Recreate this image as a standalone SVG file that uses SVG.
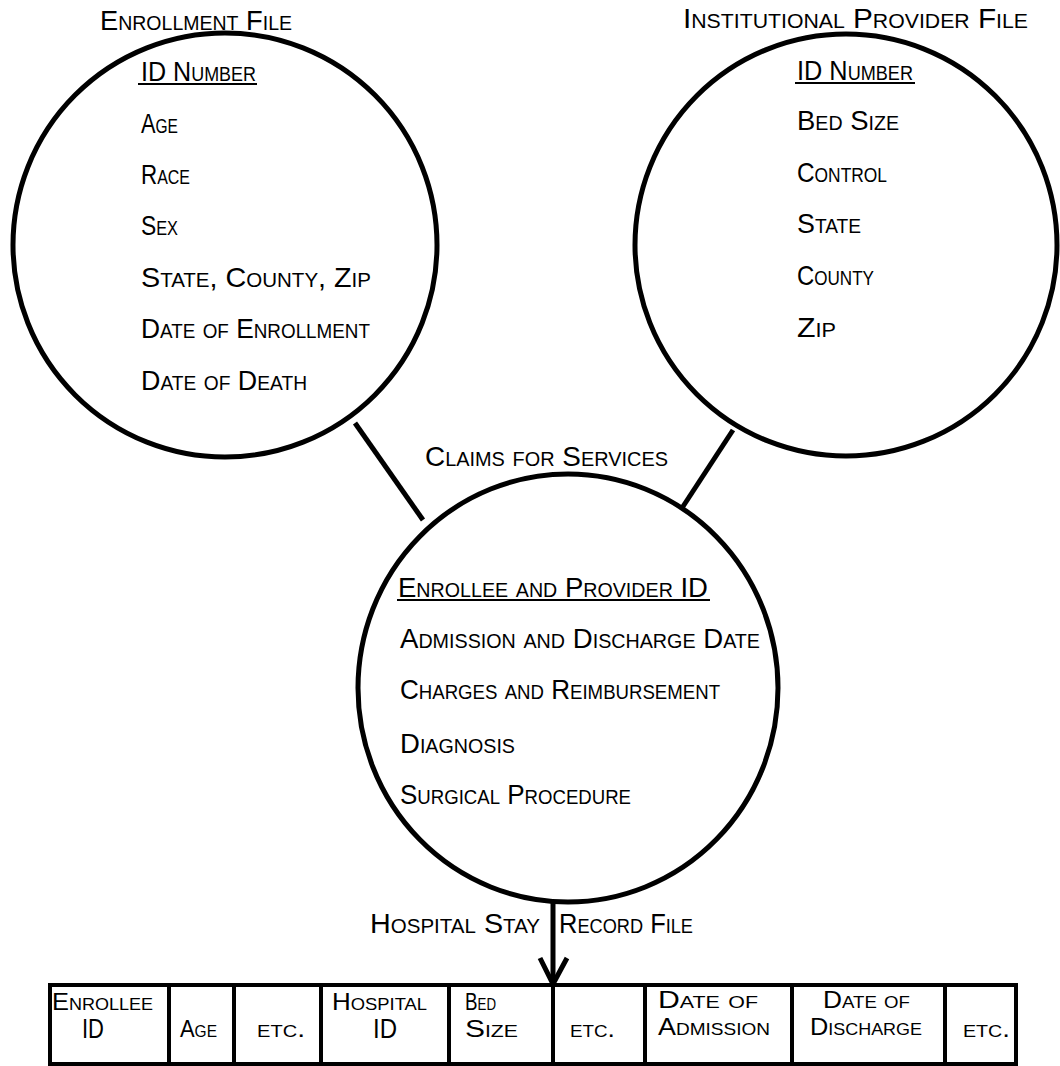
<svg xmlns="http://www.w3.org/2000/svg" width="1060" height="1066" viewBox="0 0 1060 1066">
<style>
text{font-family:"Liberation Sans","DejaVu Sans",sans-serif;font-variant:small-caps;fill:#000;}
.t{font-size:28px;}
.c{font-size:24px;}
.big{font-size:27px;}
.circ{fill:none;stroke:#000;stroke-width:5;}
.ln{stroke:#000;stroke-width:5;fill:none;}
.ul{stroke:#000;stroke-width:2;}
.cell{stroke:#000;stroke-width:4;fill:none;}
.div{stroke:#000;stroke-width:4;}
</style>
<rect width="1060" height="1066" fill="#fff"/>

<g id="connectors">
<line class="ln" x1="355" y1="423" x2="423" y2="520"/>
<line class="ln" x1="733" y1="430" x2="682" y2="508"/>
<line class="ln" x1="553" y1="902" x2="553" y2="986"/>
<path d="M540,958 L553,984 L567,958" fill="none" stroke="#000" stroke-width="5"/>
</g>

<g id="enrollment-file">
<circle class="circ" cx="225" cy="245" r="212"/>
<text class="t" x="100" y="30" textLength="192" lengthAdjust="spacingAndGlyphs">Enrollment File</text>
<text class="t" x="141" y="81" textLength="115" lengthAdjust="spacingAndGlyphs">ID Number</text>
<line class="ul" x1="138" y1="84" x2="257" y2="84"/>
<text class="t" x="141" y="133" textLength="37" lengthAdjust="spacingAndGlyphs">Age</text>
<text class="t" x="141" y="184" textLength="49" lengthAdjust="spacingAndGlyphs">Race</text>
<text class="t" x="141" y="235" textLength="37" lengthAdjust="spacingAndGlyphs">Sex</text>
<text class="t" x="141" y="287" textLength="230" lengthAdjust="spacingAndGlyphs">State, County, Zip</text>
<text class="t" x="141" y="338" textLength="229" lengthAdjust="spacingAndGlyphs">Date of Enrollment</text>
<text class="t" x="141" y="390" textLength="166" lengthAdjust="spacingAndGlyphs">Date of Death</text>
</g>

<g id="provider-file">
<circle class="circ" cx="846" cy="245" r="211"/>
<text class="t" x="683" y="28" textLength="345" lengthAdjust="spacingAndGlyphs">Institutional Provider File</text>
<text class="t" x="797" y="80" textLength="116" lengthAdjust="spacingAndGlyphs">ID Number</text>
<line class="ul" x1="795" y1="83" x2="915" y2="83"/>
<text class="t" x="797" y="130" textLength="102" lengthAdjust="spacingAndGlyphs">Bed Size</text>
<text class="t" x="797" y="182" textLength="90" lengthAdjust="spacingAndGlyphs">Control</text>
<text class="t" x="797" y="233" textLength="64" lengthAdjust="spacingAndGlyphs">State</text>
<text class="t" x="797" y="285" textLength="77" lengthAdjust="spacingAndGlyphs">County</text>
<text class="t" x="797" y="337" textLength="39" lengthAdjust="spacingAndGlyphs">Zip</text>
</g>

<g id="claims">
<ellipse class="circ" cx="568" cy="688" rx="210" ry="214"/>
<text class="t" x="425" y="466" textLength="243" lengthAdjust="spacingAndGlyphs">Claims for Services</text>
<text class="t" x="398" y="597" textLength="310" lengthAdjust="spacingAndGlyphs">Enrollee and Provider ID</text>
<line class="ul" x1="397" y1="600" x2="710" y2="600"/>
<text class="t" x="400" y="648" textLength="360" lengthAdjust="spacingAndGlyphs">Admission and Discharge Date</text>
<text class="t" x="400" y="699" textLength="320" lengthAdjust="spacingAndGlyphs">Charges and Reimbursement</text>
<text class="t" x="400" y="753" textLength="115" lengthAdjust="spacingAndGlyphs">Diagnosis</text>
<text class="t" x="400" y="804" textLength="231" lengthAdjust="spacingAndGlyphs">Surgical Procedure</text>
</g>

<g id="hospital-stay-record-file">
<text class="t" y="933"><tspan x="370" textLength="170" lengthAdjust="spacingAndGlyphs">Hospital Stay</tspan> <tspan x="559" textLength="134" lengthAdjust="spacingAndGlyphs">Record File</tspan></text>
<rect class="cell" x="50" y="985" width="966" height="79"/>
<line class="div" x1="169" y1="985" x2="169" y2="1064"/>
<line class="div" x1="234" y1="985" x2="234" y2="1064"/>
<line class="div" x1="321" y1="985" x2="321" y2="1064"/>
<line class="div" x1="449" y1="985" x2="449" y2="1064"/>
<line class="div" x1="553" y1="985" x2="553" y2="1064"/>
<line class="div" x1="645" y1="985" x2="645" y2="1064"/>
<line class="div" x1="792" y1="985" x2="792" y2="1064"/>
<line class="div" x1="945" y1="985" x2="945" y2="1064"/>
<text class="c" x="52" y="1010" textLength="101" lengthAdjust="spacingAndGlyphs">Enrollee</text>
<text class="big" x="82" y="1038" textLength="22" lengthAdjust="spacingAndGlyphs">ID</text>
<text class="c" x="180" y="1037" textLength="37" lengthAdjust="spacingAndGlyphs">Age</text>
<text class="c" x="257" y="1037" textLength="48" lengthAdjust="spacingAndGlyphs">etc.</text>
<text class="c" x="332" y="1010" textLength="95" lengthAdjust="spacingAndGlyphs">Hospital</text>
<text class="big" x="373" y="1038" textLength="24" lengthAdjust="spacingAndGlyphs">ID</text>
<text class="c" x="465" y="1010" textLength="31" lengthAdjust="spacingAndGlyphs">Bed</text>
<text class="c" x="465" y="1037" textLength="53" lengthAdjust="spacingAndGlyphs">Size</text>
<text class="c" x="570" y="1037" textLength="45" lengthAdjust="spacingAndGlyphs">etc.</text>
<text class="c" x="658" y="1008" textLength="100" lengthAdjust="spacingAndGlyphs">Date of</text>
<text class="c" x="658" y="1035" textLength="112" lengthAdjust="spacingAndGlyphs">Admission</text>
<text class="c" x="823" y="1008" textLength="87" lengthAdjust="spacingAndGlyphs">Date of</text>
<text class="c" x="810" y="1035" textLength="112" lengthAdjust="spacingAndGlyphs">Discharge</text>
<text class="c" x="963" y="1037" textLength="47" lengthAdjust="spacingAndGlyphs">etc.</text>
</g>
</svg>
